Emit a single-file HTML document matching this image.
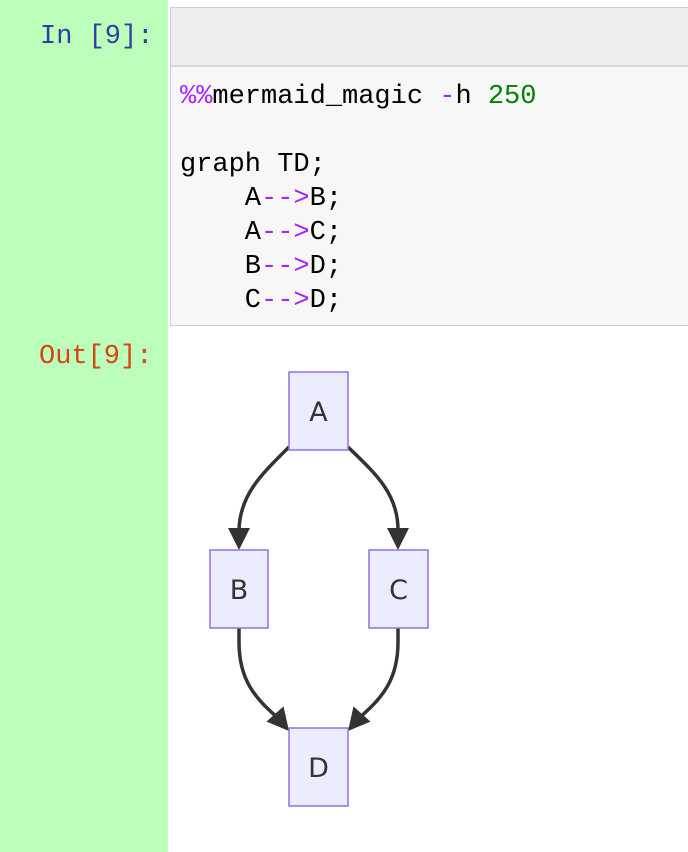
<!DOCTYPE html>
<html><head><meta charset="utf-8"><style>
html,body{margin:0;padding:0;width:688px;height:852px;background:#fff;overflow:hidden}
.green{position:absolute;left:0;top:0;width:168px;height:852px;background:#bbffbb}
.prompt{position:absolute;font-family:"Liberation Mono",monospace;font-size:27px;line-height:30px}
.cell{position:absolute;left:170px;top:7px;width:520px;height:319px;border:1px solid #cfcfcf;border-right:none;background:#f7f7f7;box-sizing:border-box}
.hdr{position:absolute;left:0;top:0;right:0;height:57px;background:#eeeeee;border-bottom:2px solid #d8d8d8}
pre{position:absolute;left:9px;top:72px;margin:0;font-family:"Liberation Mono",monospace;font-size:27px;line-height:34px;color:#000}
.p{color:#aa22ff}.g{color:#008000}
</style></head><body>
<div class="green"></div>
<div class="prompt" style="top:22px;left:40px;color:#303f9f">In [9]:</div>
<div class="prompt" style="top:342px;left:39px;color:#d84315">Out[9]:</div>
<div class="cell"><div class="hdr"></div>
<pre><span class="p">%%</span>mermaid_magic <span class="p">-</span>h <span class="g">250</span>

graph TD;
    A<span class="p">--&gt;</span>B;
    A<span class="p">--&gt;</span>C;
    B<span class="p">--&gt;</span>D;
    C<span class="p">--&gt;</span>D;</pre>
</div>
<svg style="position:absolute;left:0;top:0" width="688" height="852">
<g fill="none" stroke="#333" stroke-width="3.5">
<path d="M289,447 C262,474 240,494 239,530"/>
<path d="M348,447 C376,474 398,494 398,530"/>
<path d="M239,628 L239,642 C239,680 255,698 278,718"/>
<path d="M398,628 L398,642 C398,680 382,698 359,718"/>
</g>
<g fill="#333">
<polygon points="228,528 250,528 239,550"/>
<polygon points="387,528 409,528 398,550"/>
<polygon points="266.5,721.6 283.5,706.4 289,731"/>
<polygon points="370.5,721.6 353.5,706.4 348,731"/>
</g>
<g fill="#ececff" stroke="#9370db" stroke-width="1.5">
<rect x="289" y="372" width="59" height="78"/>
<rect x="210" y="550" width="58" height="78"/>
<rect x="369" y="550" width="59" height="78"/>
<rect x="289" y="728" width="59" height="78"/>
</g>
<g font-family="'DejaVu Sans','Liberation Sans',sans-serif" font-size="27" fill="#333" text-anchor="middle">
<text x="318.5" y="421">A</text>
<text x="239" y="599">B</text>
<text x="398.5" y="599">C</text>
<text x="318.5" y="777">D</text>
</g>
</svg>
</body></html>
